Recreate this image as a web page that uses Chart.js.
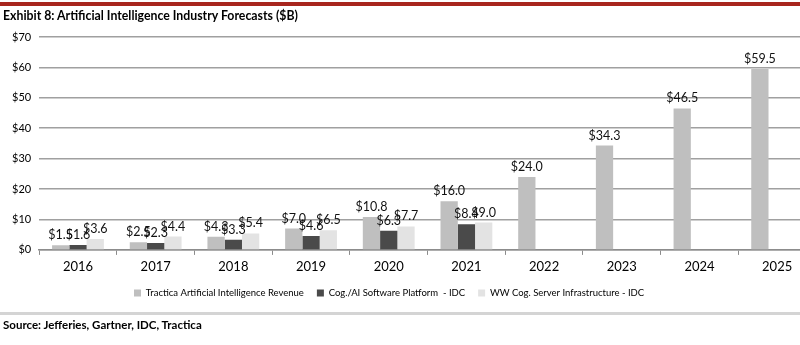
<!DOCTYPE html>
<html>
<head>
<meta charset="utf-8">
<script src="https://cdn.jsdelivr.net/npm/chart.js@4"></script>
<style>
  html, body { margin: 0; padding: 0; background: #fff; }
  body { width: 800px; height: 345px; position: relative; overflow: hidden; font-family: Lato, "Open Sans", sans-serif; }
  #topbar { position: absolute; left: 0; top: 2px; width: 800px; height: 4px; background: #a8261e; }
  #title { position: absolute; left: 3px; top: 8px; font-size: 12.3px; font-weight: bold; color: #000; }
  #sep { position: absolute; left: 0; top: 312px; width: 800px; height: 3px; background: #d4d4d4; }
  #source { position: absolute; left: 3px; top: 318px; font-size: 11.5px; font-weight: bold; color: #000; }
  #wrap { position: absolute; left: 0; top: 0; width: 830px; height: 345px; }
</style>
</head>
<body>
<div id="wrap"><canvas id="c" width="830" height="345"></canvas></div>
<div id="topbar"></div>
<div id="title">Exhibit 8: Artificial Intelligence Industry Forecasts ($B)</div>
<div id="sep"></div>
<div id="source">Source: Jefferies, Gartner, IDC, Tractica</div>
<script>
const years = ["2016","2017","2018","2019","2020","2021","2022","2023","2024","2025"];
const seriesNames = ["Tractica Artificial Intelligence Revenue", "Cog./AI Software Platform  - IDC", "WW Cog. Server Infrastructure - IDC"];
const tractica = [1.5, 2.5, 4.3, 7.0, 10.8, 16.0, 24.0, 34.3, 46.5, 59.5];
const cogSoftware = [1.6, 2.3, 3.3, 4.6, 6.3, 8.4, null, null, null, null];
const wwServer = [3.6, 4.4, 5.4, 6.5, 7.7, 9.0, null, null, null, null];
const yTicks = [0, 10, 20, 30, 40, 50, 60, 70];

const FONT = 'Lato, "Open Sans", sans-serif';
const LEGEND_PAD = 13;
const LEGEND_SIZE = 9.5;

const labelPlugin = {
  id: 'barLabels',
  afterDatasetsDraw(chart) {
    const ctx = chart.ctx;
    ctx.save();
    ctx.font = '12.5px ' + FONT;
    ctx.fillStyle = '#111';
    ctx.textAlign = 'center';
    ctx.textBaseline = 'alphabetic';
    chart.data.datasets.forEach((ds, i) => {
      const meta = chart.getDatasetMeta(i);
      meta.data.forEach((el, j) => {
        const v = ds.data[j];
        if (v === null || v === undefined) return;
        ctx.fillText('$' + v.toFixed(1), el.x, el.y - 6);
      });
    });
    ctx.restore();
  }
};

const legendShift = {
  id: 'legendShift',
  afterLayout(chart) {
    const lg = chart.legend;
    if (!lg) return;
    const w = lg.right - lg.left;
    const h = lg.bottom - lg.top;
    lg.left = 121;
    lg.right = lg.left + w;
    lg.top = 293 - LEGEND_PAD - LEGEND_SIZE / 2;
    lg.bottom = lg.top + h;
  }
};

new Chart(document.getElementById('c'), {
  type: 'bar',
  data: {
    labels: years,
    datasets: [
      { label: seriesNames[0], data: tractica, backgroundColor: '#bfbfbf' },
      { label: seriesNames[1], data: cogSoftware, backgroundColor: '#4a4a4a' },
      { label: seriesNames[2], data: wwServer, backgroundColor: '#e3e3e3' }
    ]
  },
  options: {
    responsive: false,
    animation: false,
    datasets: { bar: { categoryPercentage: 0.667, barPercentage: 1.0 } },
    layout: { padding: { top: 37, left: 4, right: 14, bottom: 34 } },
    plugins: {
      legend: {
        position: 'bottom',
        align: 'start',
        labels: {
          boxWidth: 7, boxHeight: 7, padding: LEGEND_PAD,
          color: '#000',
          font: { family: FONT, size: LEGEND_SIZE }
        }
      },
      tooltip: { enabled: false }
    },
    scales: {
      x: {
        grid: { drawOnChartArea: false, drawTicks: true, tickLength: 5, color: '#8c8c8c' },
        border: { display: true, color: '#8c8c8c', width: 1.5 },
        ticks: { color: '#000', font: { family: FONT, size: 13 }, padding: 4 }
      },
      y: {
        min: 0, max: 70,
        afterBuildTicks(axis) { axis.ticks = yTicks.map(v => ({ value: v })); },
        grid: { color: '#a0a0a0', lineWidth: 1.5, drawTicks: false },
        border: { display: false },
        ticks: {
          color: '#000', padding: 8,
          font: { family: FONT, size: 11 },
          callback: v => '$' + v
        }
      }
    }
  },
  plugins: [labelPlugin, legendShift]
});
</script>
</body>
</html>
